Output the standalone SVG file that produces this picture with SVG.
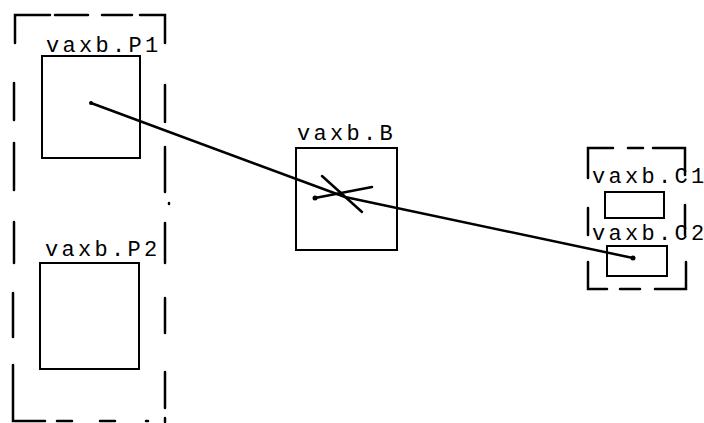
<svg xmlns="http://www.w3.org/2000/svg" width="704" height="423" viewBox="0 0 704 423">
<style>
.dash{stroke:#000;stroke-width:2.5;fill:none;stroke-linecap:round}
.box{stroke:#000;stroke-width:2;fill:#fff}
.lbl{font-family:"Liberation Mono","Courier New",monospace;font-size:22px;fill:#000;letter-spacing:3.3px}
.conn{stroke:#000;stroke-width:2.5;fill:none;stroke-linecap:round;stroke-linejoin:round}
</style>
<rect width="704" height="423" fill="#fff"/>
<g id="group-P">
<path class="dash" d="M15,43 V15 H50 M55,15 H88 M102,15 H132 M140,15 H165 V43 M14,83 V120 M14,143 V190 M14,222 V263 M13,293 V337 M13,365 V421 H45 M57,421 H72 M100,421 H115 M146,421 H148 M165,85 V122 M165,147 V192 M165,223 V263 M165,298 V333 M165,372 V408 M165,418 V422 M169,203 V204"/>
</g>
<g id="group-C">
<path class="dash" d="M588,178 V148 H613 M628,148 H643 M653,148 H685 V175 M685,205 V235 M588,208 V235 M588,262 V289 H607 M620,289 H640 M655,289 H686 V262"/>
</g>
<g id="P1">
<rect class="box" x="42" y="56" width="98" height="102"/>
<text class="lbl" x="46" y="52">vaxb.P1</text>
</g>
<g id="P2">
<rect class="box" x="40" y="263" width="99" height="106"/>
<text class="lbl" x="45" y="256">vaxb.P2</text>
</g>
<g id="B">
<rect class="box" x="296" y="148" width="101" height="102"/>
<text class="lbl" x="297" y="140">vaxb.B</text>
</g>
<g id="C1">
<rect class="box" x="605" y="192" width="59" height="26"/>
<text class="lbl" x="592" y="183">vaxb.C1</text>
</g>
<g id="C2">
<rect class="box" x="607" y="246" width="60" height="30"/>
<text class="lbl" x="592" y="240">vaxb.C2</text>
</g>
<g id="connectors">
<path class="conn" d="M322,176 L362,212"/>
<path class="conn" d="M315,198 L372,187"/>
<circle cx="315" cy="198" r="2.5"/>
<path class="conn" d="M91,103 L345,197 L633,258"/>
<circle cx="91" cy="103" r="2"/>
<circle cx="633" cy="258" r="2.5"/>
</g>
</svg>
